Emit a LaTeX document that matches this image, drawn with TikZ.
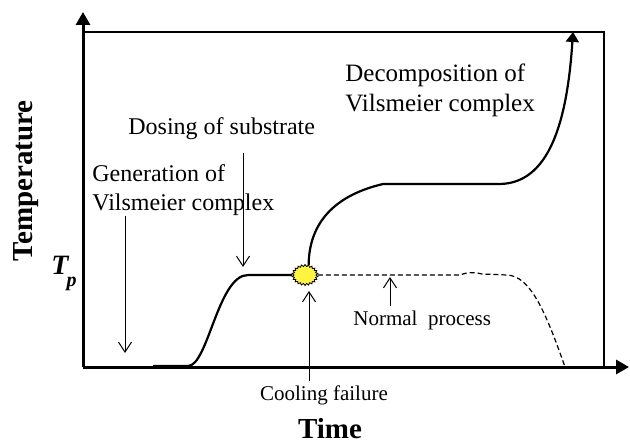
\documentclass[tikz,border=0pt]{standalone}
\usepackage{fontspec}
\setmainfont{Liberation Serif}
\usetikzlibrary{arrows.meta}
\usetikzlibrary{positioning}
\usetikzlibrary{shapes.geometric}

\begin{document}
\begin{tikzpicture}[x=0.5pt, y=-0.5pt,
    axis/.style={line width=1.5pt, -{Triangle[length=6.5pt,width=7pt]}},
    frame/.style={line width=1pt},
    curve/.style={line width=1.1pt},
    normal/.style={line width=0.6pt, dash pattern=on 2.5pt off 1.5pt},
    note/.style={line width=0.5pt, -{Straight Barb[length=5pt,width=6.5pt]}},
    lbl/.style={inner sep=0pt, font=\fontsize{12}{14.5}\selectfont, align=left},
    small/.style={inner sep=0pt, font=\fontsize{10.5}{12}\selectfont},
    title/.style={inner sep=0pt, font=\fontsize{14.5}{16}\selectfont\bfseries},
    burst/.style={ellipse, minimum width=12.5pt, minimum height=10pt, inner sep=0pt}]

    \useasboundingbox (0,0) rectangle (630,443);

    \coordinate (O) at (83,367);
    \coordinate (ytop) at (83,12);
    \coordinate (xend) at (629,367);
    \draw [frame] (83,32) -- (604,32) -- (604,367);
    \draw [axis] (O) -- (ytop);
    \draw [axis] (O) -- (xend);

    \node [title, rotate=90] (temp) at (26,181) {Temperature};
    \node [title, anchor=base] (time) at (330,438) {Time};
    \node [inner sep=0pt, anchor=base west, font=\fontsize{14}{16}\selectfont\bfseries\itshape]
      (tp) at (51,274) {T\kern-1pt\raisebox{-6pt}{\fontsize{10}{10}\selectfont p}};

    \node [lbl, anchor=base west] (gen) at (92,210) {Generation of\\Vilsmeier complex};
    \node [lbl, anchor=base west] (dose) at (128,135) {Dosing of substrate};
    \node [lbl, anchor=base west, font=\fontsize{12.5}{15}\selectfont] (decomp) at (345,112)
      {Decomposition of\\Vilsmeier complex};
    \node [small, anchor=base] (cool) at (324,400) {Cooling failure};
    \node [small, anchor=base west] (norm) at (353,325) {Normal\ \ process};

    \node [burst] (fail) at (305,275) {};
    \filldraw [fill=yellow!75!white, line width=0.4pt]
      plot [domain=0:43, samples=44]
      ({305+(11+2*mod(\x,2))*cos(360/44*\x)}, {275+(8.5+2*mod(\x,2))*sin(360/44*\x)}) -- cycle;

    \draw [curve] (153,366) -- (188,366) .. controls (208,366) and (218,275) .. (248,275) -- (fail.west);
    \draw [curve, -{Triangle[length=5pt,width=6.5pt]}] (fail.70)
      .. controls (309,225) and (332,196) .. (383,184) -- (500,184)
      .. controls (548,183) and (567,125) .. (573,32);
    \draw [normal] (fail.east) -- (460,275) .. controls (467,272) and (474,272) .. (482,274)
      -- (507,275) .. controls (530,276) and (545,310) .. (565,367);

    \coordinate (gentip) at (125,353);
    \coordinate (dosetip) at (243,267);
    \coordinate (cooltip) at (309,291);
    \coordinate (normtip) at (390,277);
    \draw [note] (gentip |- gen.south) -- (gentip);
    \draw [note, shorten <=6pt] (dosetip |- dose.south) -- (dosetip);
    \draw [note, shorten <=1.8pt] (cooltip |- cool.north) -- (cooltip);
    \draw [note, shorten <=2pt] (normtip |- norm.north) -- (normtip);

  \end{tikzpicture}
\end{document}
